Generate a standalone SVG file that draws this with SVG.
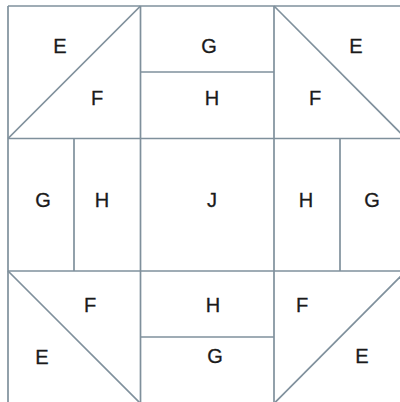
<svg xmlns="http://www.w3.org/2000/svg" width="400" height="402" viewBox="0 0 400 402">
<style>
.ln{stroke:#7f909c;stroke-width:1.7;fill:none}
.lb{font-family:"Liberation Sans",Arial,sans-serif;font-size:20px;fill:#1a1a1a;text-anchor:middle;stroke:#1a1a1a;stroke-width:0.3}
</style>
<rect width="400" height="402" fill="#fff"/>
<g id="grid" class="ln">
<line x1="8" y1="6" x2="400" y2="6"/>
<line x1="8" y1="6" x2="8" y2="402"/>
<line x1="140.5" y1="6" x2="140.5" y2="402"/>
<line x1="274" y1="6" x2="274" y2="402"/>
<line x1="8" y1="138.5" x2="400" y2="138.5"/>
<line x1="8" y1="271" x2="400" y2="271"/>
<line x1="140.5" y1="72" x2="274" y2="72"/>
<line x1="140.5" y1="337" x2="274" y2="337"/>
<line x1="74" y1="138.5" x2="74" y2="271"/>
<line x1="340" y1="138.5" x2="340" y2="271"/>
<line x1="8" y1="138.5" x2="140.5" y2="6"/>
<line x1="274" y1="6" x2="406" y2="138.5"/>
<line x1="8" y1="271" x2="140.5" y2="403.5"/>
<line x1="274" y1="403.5" x2="406" y2="271"/>
</g>
<g id="tl" class="lb"><text x="60" y="53">E</text><text x="97" y="105">F</text></g>
<g id="tm" class="lb"><text x="209" y="53">G</text><text x="212" y="105">H</text></g>
<g id="tr" class="lb"><text x="356" y="53">E</text><text x="315" y="105">F</text></g>
<g id="ml" class="lb"><text x="43" y="207">G</text><text x="102" y="207">H</text></g>
<g id="mc" class="lb"><text x="212" y="207">J</text></g>
<g id="mr" class="lb"><text x="306" y="207">H</text><text x="372" y="207">G</text></g>
<g id="bl" class="lb"><text x="90" y="312">F</text><text x="42" y="364">E</text></g>
<g id="bm" class="lb"><text x="213" y="312">H</text><text x="215" y="363">G</text></g>
<g id="br" class="lb"><text x="302" y="312">F</text><text x="362" y="363">E</text></g>
</svg>
